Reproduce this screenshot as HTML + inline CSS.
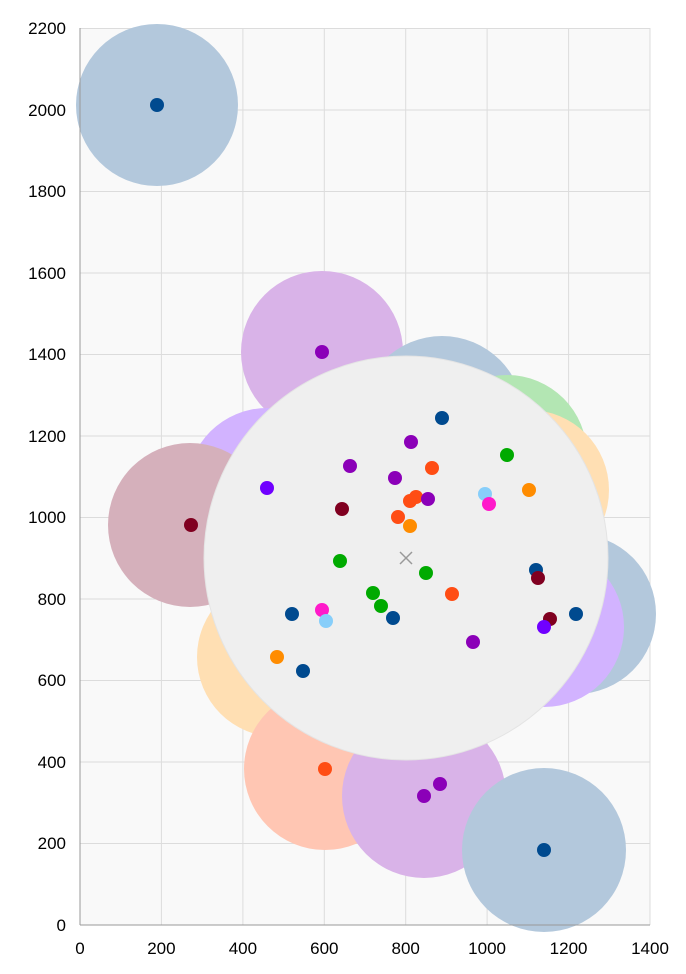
<!DOCTYPE html>
<html><head><style>body{margin:0;background:#fff}svg{display:block}text{font-family:"Liberation Sans",sans-serif;font-size:17px;fill:#000}</style></head><body>
<svg width="686" height="974" viewBox="0 0 686 974">
<rect x="80" y="28" width="570" height="897" fill="#f9f9f9"/>
<g stroke="#dcdcdc" stroke-width="1">
<line x1="161.4" y1="28" x2="161.4" y2="925"/><line x1="242.9" y1="28" x2="242.9" y2="925"/><line x1="324.3" y1="28" x2="324.3" y2="925"/><line x1="405.7" y1="28" x2="405.7" y2="925"/><line x1="487.1" y1="28" x2="487.1" y2="925"/><line x1="568.6" y1="28" x2="568.6" y2="925"/><line x1="650" y1="28" x2="650" y2="925"/>
<line x1="80" y1="843.5" x2="650" y2="843.5"/><line x1="80" y1="762" x2="650" y2="762"/><line x1="80" y1="680.5" x2="650" y2="680.5"/><line x1="80" y1="599" x2="650" y2="599"/><line x1="80" y1="517.5" x2="650" y2="517.5"/><line x1="80" y1="436" x2="650" y2="436"/><line x1="80" y1="354.5" x2="650" y2="354.5"/><line x1="80" y1="273" x2="650" y2="273"/><line x1="80" y1="191.5" x2="650" y2="191.5"/><line x1="80" y1="110" x2="650" y2="110"/><line x1="80" y1="28.5" x2="650" y2="28.5"/>
</g>
<g>
<circle cx="157" cy="105" r="81" fill="#b3c8dc"/>
<circle cx="322" cy="352" r="81" fill="#d9b3e8"/>
<circle cx="442" cy="418" r="82" fill="#b3c8dc"/>
<circle cx="507" cy="455" r="80" fill="#b3e6b3"/>
<circle cx="529" cy="490" r="80" fill="#ffdfb3"/>
<circle cx="267" cy="488" r="80" fill="#d2b3ff"/>
<circle cx="190" cy="525" r="82" fill="#d5b0bb"/>
<circle cx="576" cy="614" r="80" fill="#b3c8dc"/>
<circle cx="544" cy="627" r="80" fill="#d2b3ff"/>
<circle cx="303" cy="671" r="80" fill="#b3c8dc"/>
<circle cx="277" cy="657" r="80" fill="#ffdfb3"/>
<circle cx="325" cy="769" r="81" fill="#ffc6b3"/>
<circle cx="424" cy="796" r="82" fill="#d9b3e8"/>
<circle cx="544" cy="850" r="82" fill="#b3c8dc"/>
<circle cx="406" cy="558" r="202" fill="#efefef" stroke="#e4e4e4"/>
</g>
<g stroke="#999" stroke-width="1.5"><line x1="400" y1="552" x2="412" y2="564"/><line x1="412" y1="552" x2="400" y2="564"/></g>
<g>
<circle cx="157" cy="105" r="7" fill="#004a8f"/>
<circle cx="322" cy="352" r="7" fill="#8b00b8"/>
<circle cx="442" cy="418" r="7" fill="#004a8f"/>
<circle cx="411" cy="442" r="7" fill="#8b00b8"/>
<circle cx="507" cy="455" r="7" fill="#00aa00"/>
<circle cx="432" cy="468" r="7" fill="#ff4d14"/>
<circle cx="350" cy="466" r="7" fill="#8b00b8"/>
<circle cx="395" cy="478" r="7" fill="#8b00b8"/>
<circle cx="267" cy="488" r="7" fill="#7000ff"/>
<circle cx="529" cy="490" r="7" fill="#ff8c00"/>
<circle cx="485" cy="494" r="7" fill="#87cefa"/>
<circle cx="416" cy="497" r="7" fill="#ff4d14"/>
<circle cx="410" cy="501" r="7" fill="#ff4d14"/>
<circle cx="428" cy="499" r="7" fill="#8b00b8"/>
<circle cx="489" cy="504" r="7" fill="#ff1aca"/>
<circle cx="342" cy="509" r="7" fill="#800020"/>
<circle cx="191" cy="525" r="7" fill="#800020"/>
<circle cx="398" cy="517" r="7" fill="#ff4d14"/>
<circle cx="410" cy="526" r="7" fill="#ff8c00"/>
<circle cx="340" cy="561" r="7" fill="#00aa00"/>
<circle cx="426" cy="573" r="7" fill="#00aa00"/>
<circle cx="536" cy="570" r="7" fill="#004a8f"/>
<circle cx="538" cy="578" r="7" fill="#800020"/>
<circle cx="373" cy="593" r="7" fill="#00aa00"/>
<circle cx="452" cy="594" r="7" fill="#ff4d14"/>
<circle cx="381" cy="606" r="7" fill="#00aa00"/>
<circle cx="292" cy="614" r="7" fill="#004a8f"/>
<circle cx="322" cy="610" r="7" fill="#ff1aca"/>
<circle cx="326" cy="621" r="7" fill="#87cefa"/>
<circle cx="393" cy="618" r="7" fill="#004a8f"/>
<circle cx="576" cy="614" r="7" fill="#004a8f"/>
<circle cx="550" cy="619" r="7" fill="#800020"/>
<circle cx="544" cy="627" r="7" fill="#7000ff"/>
<circle cx="473" cy="642" r="7" fill="#8b00b8"/>
<circle cx="277" cy="657" r="7" fill="#ff8c00"/>
<circle cx="303" cy="671" r="7" fill="#004a8f"/>
<circle cx="325" cy="769" r="7" fill="#ff4d14"/>
<circle cx="440" cy="784" r="7" fill="#8b00b8"/>
<circle cx="424" cy="796" r="7" fill="#8b00b8"/>
<circle cx="544" cy="850" r="7" fill="#004a8f"/>
</g>
<g stroke="#999" stroke-width="1"><line x1="80" y1="28" x2="80" y2="925"/><line x1="80" y1="925" x2="650" y2="925"/></g>
<g text-anchor="end">
<text x="66" y="931">0</text><text x="66" y="849">200</text><text x="66" y="768">400</text><text x="66" y="686">600</text><text x="66" y="605">800</text><text x="66" y="523">1000</text><text x="66" y="442">1200</text><text x="66" y="360">1400</text><text x="66" y="279">1600</text><text x="66" y="197">1800</text><text x="66" y="116">2000</text><text x="66" y="34">2200</text>
</g>
<g text-anchor="middle">
<text x="80" y="954">0</text><text x="161.4" y="954">200</text><text x="242.9" y="954">400</text><text x="324.3" y="954">600</text><text x="405.7" y="954">800</text><text x="487.1" y="954">1000</text><text x="568.6" y="954">1200</text><text x="650" y="954">1400</text>
</g>
</svg>
</body></html>
